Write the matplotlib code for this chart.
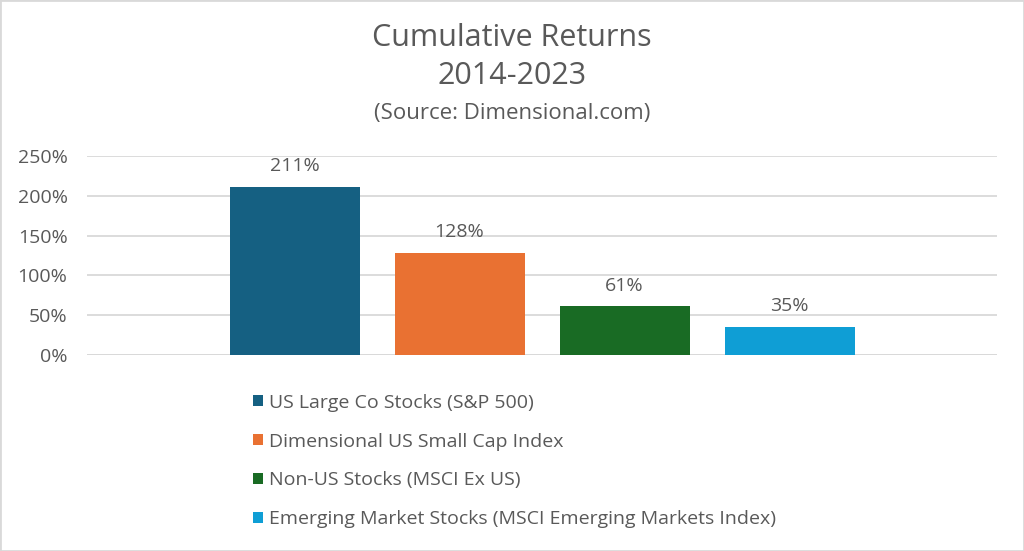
import matplotlib.pyplot as plt
from matplotlib.patches import Patch, Rectangle
from matplotlib.ticker import FuncFormatter

plt.rcParams['font.family'] = ['Open Sans', 'DejaVu Sans']

# Data
series = [
    "US Large Co Stocks (S&P 500)",
    "Dimensional US Small Cap Index",
    "Non-US Stocks (MSCI Ex US)",
    "Emerging Market Stocks (MSCI Emerging Markets Index)",
]
returns = [211, 128, 61, 35]
colors = ["#156082", "#E97132", "#196B24", "#0F9ED5"]
yticks = [0, 50, 100, 150, 200, 250]

text_color = "#595959"
grid_color = "#D9D9D9"

fig = plt.figure(figsize=(10.24, 5.51), dpi=100)
ax = fig.add_axes([87 / 1024, 1 - 355 / 551, 910 / 1024, 199 / 551])

x = list(range(len(returns)))
bars = ax.bar(x, returns, width=130 / 165, color=colors, zorder=3)
for b, v in zip(bars, returns):
    ax.annotate(f"{v}%", (b.get_x() + b.get_width() / 2, v),
                xytext=(0, 8.5), textcoords="offset points",
                ha="center", va="bottom", fontsize=14, color=text_color)

half = 910 / 165 / 2
ax.set_xlim(1.5 - half, 1.5 + half)
ax.set_ylim(0, 250)
ax.set_yticks(yticks)
ax.yaxis.set_major_formatter(FuncFormatter(lambda v, p: f"{v:.0f}%"))
ax.tick_params(axis="y", length=0, labelsize=14, labelcolor=text_color, pad=14)
ax.set_xticks([])
ax.grid(axis="y", color=grid_color, linewidth=1.3, zorder=0)
for s in ax.spines.values():
    s.set_visible(False)
ax.axhline(0, color=grid_color, linewidth=1.3, zorder=2)

# Titles
fig.text(0.5, 1 - 38 / 551, "Cumulative Returns", ha="center", va="center",
         fontsize=22, color=text_color)
fig.text(0.5, 1 - 76 / 551, "2014-2023", ha="center", va="center",
         fontsize=22, color=text_color)
fig.text(0.5, 1 - 113 / 551, "(Source: Dimensional.com)", ha="center", va="center",
         fontsize=16, color=text_color)

# Legend
handles = [Patch(facecolor=c, edgecolor="none") for c in colors]
fig.legend(handles, series, loc="upper left", bbox_to_anchor=(245 / 1024, 1 - 386 / 551),
           frameon=False, fontsize=14, labelcolor=text_color, handlelength=0.5,
           handleheight=0.5, handletextpad=0.35, labelspacing=1.07, borderaxespad=0)

# Outer border
fig.patches.append(Rectangle((0, 0), 1, 1, transform=fig.transFigure, fill=False,
                             edgecolor=grid_color, linewidth=2))

plt.savefig("out.png", dpi=100)
